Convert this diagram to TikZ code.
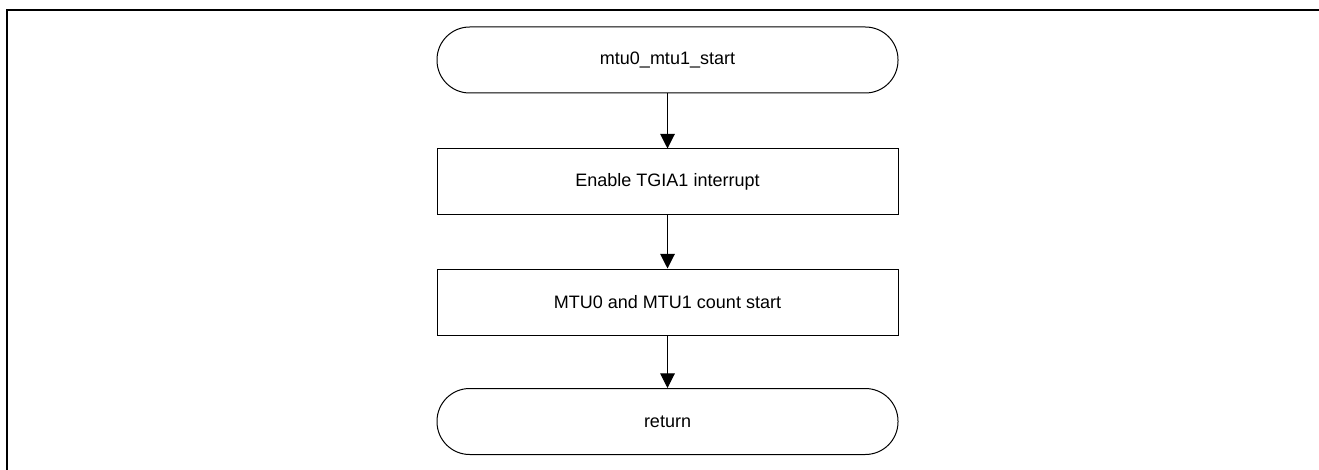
\documentclass[tikz,border=0pt]{standalone}
\usepackage{fontspec}
\setmainfont{Liberation Sans}
\usetikzlibrary{arrows.meta}
\begin{document}
\begin{tikzpicture}[x=0.75pt,y=-0.75pt,
  term/.style={draw=black,line width=0.75pt,rounded corners=24.5pt,minimum width=345.75pt,minimum height=49.5pt,inner sep=0pt,font=\fontsize{13.5pt}{16pt}\selectfont},
  procbox/.style={draw=black,line width=0.75pt,minimum width=345.75pt,minimum height=49.5pt,inner sep=0pt,font=\fontsize{13.5pt}{16pt}\selectfont},
  flow/.style={line width=0.75pt,-{Triangle[length=11pt,width=11pt]}}]
\useasboundingbox (0,0) rectangle (1319,470);
\draw[line width=1.5pt] (7,470) -- (7,10) -- (1319,10);
\node[term] (start) at (667.5,60) {mtu0\_mtu1\_start};
\node[procbox] (b1) at (667.5,182) {Enable TGIA1 interrupt};
\node[procbox] (b2) at (667.5,302) {MTU0 and MTU1 count start};
\node[term] (ret) at (667.5,421.5) {return};
\draw[flow] (start) -- (b1);
\draw[flow] (b1) -- (b2);
\draw[flow] (b2) -- (ret);
\end{tikzpicture}
\end{document}
